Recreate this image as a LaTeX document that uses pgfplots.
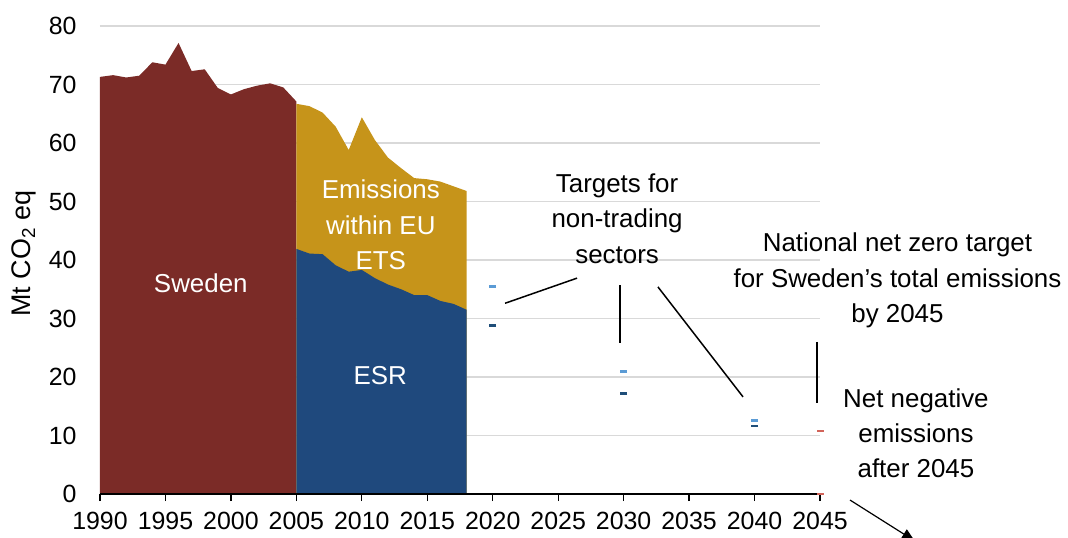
\documentclass[border=0pt]{standalone}
\usepackage{fontspec}
\setmainfont{Liberation Sans}
\usepackage{pgfplots}
\pgfplotsset{compat=1.18}
\usetikzlibrary{arrows.meta}
\definecolor{swe}{RGB}{123,43,39}
\definecolor{ets}{RGB}{198,148,26}
\definecolor{esr}{RGB}{31,73,125}
\definecolor{lblue}{RGB}{91,155,213}
\definecolor{dblue}{RGB}{31,78,121}
\definecolor{tred}{RGB}{210,100,90}
\definecolor{gridc}{RGB}{217,217,217}
\newcommand\af{\fontsize{26}{35.5}\selectfont}
\begin{document}
\begin{tikzpicture}
\path[use as bounding box] (-100bp,-44bp) rectangle (968bp,494bp);
\begin{axis}[
  scale only axis, width=720bp, height=468bp, at={(0,0)}, anchor=south west,
  xmin=1990, xmax=2045, ymin=0, ymax=80,
  xtick={1990,1995,...,2045}, ytick={0,10,...,80},
  axis x line*=bottom, axis y line*=left,
  y axis line style={draw=none},
  x axis line style={draw=none},
  ymajorgrids, grid style={draw=gridc, line width=1.5bp},
  tick align=outside, major tick length=7bp,
  xtick style={draw=black, line width=1.2bp},
  ytick style={draw=none},
  /pgf/number format/1000 sep={},
  /pgf/number format/assume math mode=true,
  tick label style={font=\fontsize{25}{25}\selectfont},
  x tick label style={yshift=-8bp},
  y tick label style={xshift=-13bp},
  every axis y label/.style={at={(axis description cs:-0.1056,0.514)}, rotate=90, anchor=center},
  ylabel={\fontsize{27}{27}\selectfont Mt CO\textsubscript{2} eq},
  clip=false,
]
\addplot[fill=swe, draw=none] coordinates {
(1990,71.3)(1991,71.6)(1992,71.2)(1993,71.5)(1994,73.8)(1995,73.4)(1996,77.1)(1997,72.3)
(1998,72.6)(1999,69.4)(2000,68.3)(2001,69.2)(2002,69.8)(2003,70.2)(2004,69.5)(2005,67.1)
} \closedcycle;
\addplot[fill=ets, draw=none] coordinates {
(2005,66.7)(2006,66.3)(2007,65.2)(2008,62.8)(2009,58.8)(2010,64.4)(2011,60.5)(2012,57.5)
(2013,55.7)(2014,54.0)(2015,53.8)(2016,53.4)(2017,52.6)(2018,51.8)
} \closedcycle;
\addplot[fill=esr, draw=none] coordinates {
(2005,41.9)(2006,41.1)(2007,41.0)(2008,39.1)(2009,38.0)(2010,38.3)(2011,36.9)(2012,35.8)
(2013,35.0)(2014,34.0)(2015,34.0)(2016,33.0)(2017,32.5)(2018,31.5)
} \closedcycle;
\addplot[only marks, mark=-, mark size=3.5bp, line width=2.5bp, color=lblue] coordinates {
(2020,35.5)(2030,20.9)(2040,12.6)};
\addplot[only marks, mark=-, mark size=3.5bp, line width=2.5bp, color=dblue] coordinates {
(2020,28.8)(2030,17.2)(2040,11.6)};
\draw[black, line width=1.5bp] (axis cs:1990,0) -- (axis cs:2045,0);
\addplot[only marks, mark=-, mark size=3.5bp, line width=2.5bp, color=tred] coordinates {
(2045,10.8)(2045,0)};
% area labels
\node[white, font=\af, inner sep=0pt] at (axis cs:1997.7,36.07) {Sweden};
\node[white, font=\af, inner sep=0pt, align=center] at (axis cs:2011.45,46.0) {Emissions\\within EU\\ETS};
\node[white, font=\af, inner sep=0pt] at (axis cs:2011.4,20.17) {ESR};
% annotations
\node[black, font=\af, inner sep=0pt, align=center] at (axis cs:2029.5,47.1) {Targets for\\non-trading\\sectors};
\node[black, font=\af, inner sep=0pt, align=center] at (axis cs:2050.92,36.5) {National net zero target\\for Sweden’s total emissions\\by 2045};
\node[black, font=\af, inner sep=0pt, align=center] at (axis cs:2052.33,10.4) {Net negative\\emissions\\after 2045};
\draw[black, line width=1.5bp] (axis cs:2020.94,32.6) -- (axis cs:2026.44,36.9);
\draw[black, line width=1.5bp] (axis cs:2029.72,35.7) -- (axis cs:2029.72,25.8);
\draw[black, line width=1.5bp] (axis cs:2032.62,35.4) -- (axis cs:2039.12,16.6);
\draw[black, line width=1.5bp] (axis cs:2044.77,26.0) -- (axis cs:2044.77,15.6);
\draw[black, line width=1.2bp, -{Triangle[length=13bp,width=11bp]}] (axis cs:2047.29,-1.03) -- (axis cs:2052.24,-8.03);
\end{axis}
\end{tikzpicture}
\end{document}
